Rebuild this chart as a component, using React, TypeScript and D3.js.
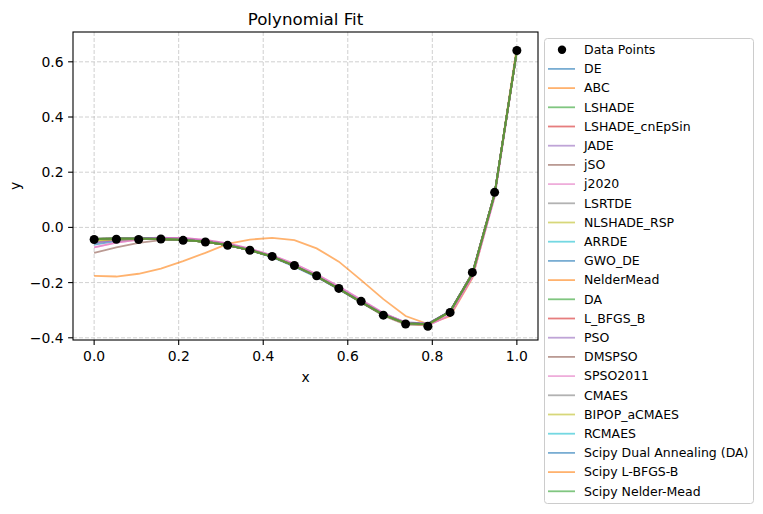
import React from "react";
import { scaleLinear, line } from "d3";

// sample positions (20 evenly spaced points on [0, 1])
const xs = [
  0, 0.0526, 0.1053, 0.1579, 0.2105, 0.2632, 0.3158, 0.3684, 0.4211, 0.4737,
  0.5263, 0.5789, 0.6316, 0.6842, 0.7368, 0.7895, 0.8421, 0.8947, 0.9474, 1,
];

const dataY = [
  -0.044, -0.043, -0.044, -0.042, -0.047, -0.053, -0.065, -0.083, -0.105, -0.138,
  -0.175, -0.221, -0.268, -0.318, -0.35, -0.358, -0.308, -0.163, 0.127, 0.641,
];

const fitMain = [
  -0.042, -0.041, -0.041, -0.042, -0.045, -0.052, -0.064, -0.082, -0.106, -0.139,
  -0.177, -0.222, -0.27, -0.316, -0.348, -0.351, -0.305, -0.169, 0.121, 0.64,
];
const fitDE = [
  -0.062, -0.05, -0.043, -0.04, -0.042, -0.05, -0.064, -0.083, -0.108, -0.142,
  -0.18, -0.225, -0.272, -0.318, -0.348, -0.35, -0.303, -0.168, 0.122, 0.64,
];
const fitABC = [
  -0.176, -0.178, -0.168, -0.149, -0.122, -0.092, -0.06, -0.044, -0.038, -0.046,
  -0.076, -0.124, -0.191, -0.26, -0.321, -0.35, -0.322, -0.184, 0.118, 0.655,
];
const fitJADE = [
  -0.055, -0.046, -0.04, -0.037, -0.04, -0.048, -0.061, -0.08, -0.104, -0.137,
  -0.175, -0.22, -0.267, -0.313, -0.344, -0.348, -0.304, -0.166, 0.124, 0.641,
];
const fitJSO = [
  -0.092, -0.072, -0.056, -0.046, -0.043, -0.048, -0.06, -0.08, -0.106, -0.14,
  -0.179, -0.224, -0.272, -0.32, -0.352, -0.355, -0.305, -0.165, 0.124, 0.641,
];
const fitJ2020 = [
  -0.072, -0.055, -0.044, -0.038, -0.038, -0.045, -0.058, -0.077, -0.101, -0.132,
  -0.17, -0.214, -0.262, -0.31, -0.345, -0.356, -0.318, -0.18, 0.11, 0.638,
];
const fitOlive = [
  -0.048, -0.044, -0.042, -0.042, -0.045, -0.052, -0.064, -0.082, -0.106, -0.139,
  -0.177, -0.222, -0.27, -0.317, -0.349, -0.353, -0.307, -0.168, 0.122, 0.641,
];

const names = [
  "DE", "ABC", "LSHADE", "LSHADE_cnEpSin", "JADE", "jSO", "j2020", "LSRTDE",
  "NLSHADE_RSP", "ARRDE", "GWO_DE", "NelderMead", "DA", "L_BFGS_B", "PSO",
  "DMSPSO", "SPSO2011", "CMAES", "BIPOP_aCMAES", "RCMAES",
  "Scipy Dual Annealing (DA)", "Scipy L-BFGS-B", "Scipy Nelder-Mead",
];
const fits = [
  fitDE, fitABC, fitMain, fitMain, fitJADE, fitJSO, fitJ2020, fitMain,
  fitOlive, fitMain, fitMain, fitMain, fitMain, fitMain, fitJADE,
  fitMain, fitJ2020, fitMain, fitOlive, fitMain,
  fitMain, fitMain, fitMain,
];

const tab10 = [
  "#1f77b4", "#ff7f0e", "#2ca02c", "#d62728", "#9467bd",
  "#8c564b", "#e377c2", "#7f7f7f", "#bcbd22", "#17becf",
];

const xTicks = [0, 0.2, 0.4, 0.6, 0.8, 1.0];
const yTicks = [-0.4, -0.2, 0, 0.2, 0.4, 0.6];

export default function App() {
  const W = 763;
  const H = 514;
  const m = { left: 73, right: 538, top: 32, bottom: 340 };
  const font = "DejaVu Sans, sans-serif";

  const x = scaleLinear().domain([-0.05, 1.05]).range([m.left, m.right]);
  const y = scaleLinear().domain([-0.408, 0.708]).range([m.bottom, m.top]);

  const path = line<number>()
    .x((_, i) => x(xs[i]))
    .y((d) => y(d));

  const legX = 544;
  const legY = 38;
  const rowH = 19.2;
  const rowY0 = 49.7;

  return (
    <svg
      width={W}
      height={H}
      style={{ position: "absolute", left: 0, top: 0, background: "white" }}
      fontFamily={font}
    >
      <defs>
        <clipPath id="plotclip">
          <rect x={m.left} y={m.top} width={m.right - m.left} height={m.bottom - m.top} />
        </clipPath>
      </defs>

      {/* grid */}
      {xTicks.map((t) => (
        <line key={"gx" + t} x1={x(t)} x2={x(t)} y1={m.top} y2={m.bottom}
          stroke="#b0b0b0" strokeOpacity={0.6} strokeWidth={1} strokeDasharray="4,2" />
      ))}
      {yTicks.map((t) => (
        <line key={"gy" + t} x1={m.left} x2={m.right} y1={y(t)} y2={y(t)}
          stroke="#b0b0b0" strokeOpacity={0.6} strokeWidth={1} strokeDasharray="4,2" />
      ))}

      <g clipPath="url(#plotclip)">
        {fits.map((f, i) => (
          <path key={names[i]} d={path(f) || ""} fill="none"
            stroke={tab10[i % 10]} strokeOpacity={0.6} strokeWidth={1.8} />
        ))}
        {dataY.map((v, i) => (
          <circle key={"p" + i} cx={x(xs[i])} cy={y(v)} r={4.5} fill="black" />
        ))}
      </g>

      {/* spines */}
      <rect x={m.left} y={m.top} width={m.right - m.left} height={m.bottom - m.top}
        fill="none" stroke="black" strokeWidth={1.1} />

      {/* ticks */}
      {xTicks.map((t) => (
        <g key={"xt" + t}>
          <line x1={x(t)} x2={x(t)} y1={m.bottom} y2={m.bottom + 4.9} stroke="black" strokeWidth={1.1} />
          <text x={x(t)} y={m.bottom + 21} textAnchor="middle" fontSize={13.9} fill="#000">
            {t.toFixed(1)}
          </text>
        </g>
      ))}
      {yTicks.map((t) => (
        <g key={"yt" + t}>
          <line x1={m.left} x2={m.left - 4.9} y1={y(t)} y2={y(t)} stroke="black" strokeWidth={1.1} />
          <text x={m.left - 9.5} y={y(t) + 5} textAnchor="end" fontSize={13.9} fill="#000">
            {(t < 0 ? "\u2212" : "") + Math.abs(t).toFixed(1)}
          </text>
        </g>
      ))}

      <text x={(m.left + m.right) / 2} y={m.bottom + 42} textAnchor="middle" fontSize={13.9}>x</text>
      <text transform={`translate(20,${(m.top + m.bottom) / 2}) rotate(-90)`} textAnchor="middle" fontSize={13.9}>y</text>
      <text x={(m.left + m.right) / 2} y={25} textAnchor="middle" fontSize={16.7}>Polynomial Fit</text>

      {/* legend */}
      <rect x={legX + 0.5} y={legY + 0.5} width={209} height={465} rx={3}
        fill="white" fillOpacity={0.8} stroke="#cccccc" strokeWidth={1} />
      <circle cx={562} cy={rowY0} r={4.2} fill="black" />
      <text x={584} y={rowY0 + 4.3} fontSize={12.5}>Data Points</text>
      {names.map((n, i) => {
        const ry = rowY0 + rowH * (i + 1);
        return (
          <g key={"lg" + n}>
            <line x1={548} x2={575} y1={ry} y2={ry} stroke={tab10[i % 10]} strokeOpacity={0.6} strokeWidth={1.8} />
            <text x={584} y={ry + 4.3} fontSize={12.5}>{n}</text>
          </g>
        );
      })}
    </svg>
  );
}
